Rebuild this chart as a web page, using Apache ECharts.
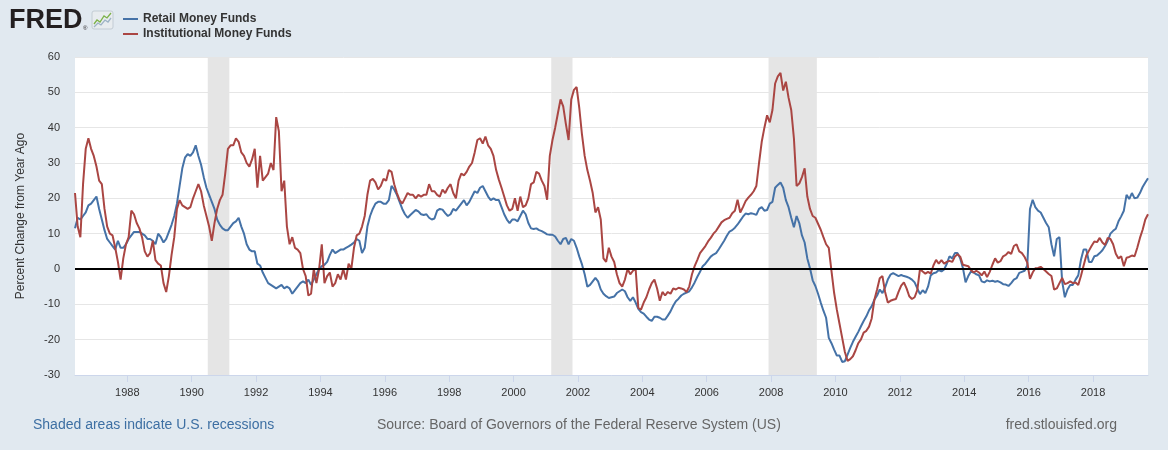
<!DOCTYPE html>
<html>
<head>
<meta charset="utf-8">
<script src="https://cdn.jsdelivr.net/npm/echarts@6/dist/echarts.min.js"></script>
<style>
html,body{margin:0;padding:0;background:#e1e9f0;}
#chart{width:1168px;height:450px;}
</style>
</head>
<body>
<div id="chart"></div>
<script>
// ---- data (percent change from year ago, monthly readings from mid-May 1986) ----
const seriesNames = ['Retail Money Funds', 'Institutional Money Funds'];
const startYear = 1986.375;
const monthStep = 1 / 12;

const retail = [
  11.5, 14.5, 14, 15, 16, 18, 18.5, 19.5, 20.5, 17, 14, 11, 8.5, 7.5, 6.5, 5.5, 8, 6, 6, 7,
  8.5, 9.5, 10.5, 10.5, 10.5, 10, 9.5, 8.5, 8.5, 8, 7, 10, 9, 7.5, 8.5, 10.5, 12.5, 15, 18.5, 23.5,
  28.5, 31.5, 32.5, 32, 33, 35, 32, 29.5, 26, 23, 21, 19, 17, 14, 12.5, 11.5, 11, 11, 12, 13,
  13.5, 14.5, 12, 10, 7, 5.5, 5, 5,
  1.5, 1, -1, -2.5, -4, -4.5, -5, -5.5, -5, -4.5, -5.5, -5, -5.5, -7, -6, -5, -4, -3.5, -4, -3,
  -4.5, -3, -1.5, 0, 0.8, 1.2, 2, 4, 5.5, 4.5, 5, 5.5, 5.5, 6, 6.4, 6.9, 7.5, 8.5, 8, 4.5,
  6, 12, 15, 17, 18.5, 19, 19, 18.5, 18.5, 19.5, 23.5, 22.5, 21, 19, 17, 15.5, 14.5, 15.3, 16, 16.7,
  16.3, 15.5, 15.3, 15.5, 14.5, 14, 14.3,
  16.5, 17, 16.8, 15.8, 15, 15.5, 17, 16.5, 17.5, 18.5, 19.5, 18, 19, 20.5, 22, 21.5, 23, 23.5, 22, 20.5,
  19.5, 20, 19.5, 19.5, 17.5, 15.5, 14, 13, 14, 14, 13.5, 15, 16.5, 15.5, 13, 11.5, 11.3, 11.5, 11, 10.7,
  10.3, 9.8, 9.7, 9.7, 9.2, 8, 7, 8.5, 8.8, 7, 8.5, 8, 6, 3.5, 1.3, -1.5, -5, -4.5, -3.5, -2.5,
  -3.5, -5.8, -7, -7.7, -8.2, -8, -7.8,
  -6.8, -6.3, -5.8, -6.3, -8, -9, -8, -9.5, -11.3, -12.2, -12.6, -13.5, -14.3, -14.7, -13.5, -13.5, -13.8, -14.3, -14.3, -13.2,
  -12, -10.4, -9.1, -8.4, -7.5, -7, -6.7, -6.3, -5.2, -3.8, -2.2, -0.8, 0.8, 1.5, 2.5, 3.5, 4.1, 4.5, 5.6, 6.8,
  8, 9.4, 10.6, 11, 11.7, 12.6, 13.7, 14.8, 15.7, 15.5, 15.8, 15.6, 15.3, 17, 17.5, 16.5, 16.7, 18.5, 19, 23,
  23.8, 24.5, 23, 19.5, 17.5, 14.5, 11.8,
  15, 13, 9.5, 7.5, 3, 0.2, -3.2, -4.8, -7, -9.5, -11.8, -13.8, -19.5, -21, -22.8, -24.5, -24.5, -26.3, -26.1, -24.2,
  -22.3, -20.6, -19.2, -17.8, -16.2, -14.7, -13.4, -11.7, -10.5, -8.7, -7.5, -5.8, -6.8, -5.2, -3, -1.6, -1.2, -1.6, -2, -1.7,
  -2, -2.2, -2.5, -3, -3.8, -5.5, -7.1, -6, -6.8, -5, -1.8, -1.2, -1, -0.3, -0.7, -0.1, 1.5, 3.6, 3, 4.5,
  4.5, 3, 0.3, -3.8, -2, -0.7, -1,
  -1.5, -1.8, -3.5, -3.8, -3.2, -3.5, -3.3, -3.6, -3.4, -3.8, -4.3, -4.4, -4.8, -4, -3, -2.6, -1.1, -0.8, -0.5, 1,
  17, 19.6, 17.5, 16.5, 16, 14.5, 13, 11.8, 7, 3.6, 8.5, 9, -3.5, -8, -5.8, -4.5, -4.5, -3, -1.8, 2.6,
  5.5, 5.5, 2, 2, 3.6, 3.8, 4.5, 5.3, 6.5, 8, 10, 10.8, 11.4, 13.5, 14.9, 16.5, 21, 19.8, 21.5, 20,
  20.2, 21.5, 23.2, 24.5, 25.7
];

const institutional = [
  21.5, 12, 9, 24, 34, 37, 34, 32, 29, 25, 24, 17, 12, 10, 9.5, 6, 2, -3, 3, 7,
  9, 16.5, 15.5, 13, 11.5, 9, 5, 3.5, 4.5, 8, 2.5, 1.5, 1, -4, -6.5, -2, 4, 9, 17, 19.5,
  18, 17.5, 17, 17.5, 20, 22, 24, 22, 18, 15, 12, 8, 13, 17, 19.5, 21, 27, 34, 35, 35,
  37, 36, 33, 32, 30, 29, 31, 34,
  23, 32, 25, 26, 27, 30, 28, 43, 39, 22, 25, 12, 7, 9, 6, 5.5, 4.5, 0, -2, -7.5,
  -7, 0, -4, 0, 7, -4, -2, -1, -5, -4, -1.5, -3, 0, -3, 1.5, 0, 6, 9.5, 10, 12,
  15, 21, 25, 25.5, 24.5, 22.5, 23.5, 25.5, 25, 28, 27.5, 24, 21.5, 19.5, 18.5, 20, 21.5, 21, 21, 20,
  21, 20.5, 21, 21, 24, 22, 22,
  21, 20.5, 22.5, 21.5, 23, 24, 21.5, 20, 25, 27, 26.5, 27.5, 29, 30, 33, 36.5, 37, 35.5, 37.5, 35,
  34, 32, 28, 25.3, 23, 20.5, 18, 16.5, 17, 20, 16.5, 20.5, 17.5, 18, 20, 24, 24.5, 27.5, 27, 25,
  23.5, 19.6, 32, 36.5, 40, 44, 48, 46, 41, 36.5, 48, 50.7, 51.5, 45.5, 38, 32, 28, 25, 21.5, 16,
  17.5, 14, 3, 2, 6, 3.5, 2,
  -1.5, -4, -5, -3, 0, -1.5, -0.5, 0, -11, -11.5, -9.5, -8, -5.8, -4, -3, -5.5, -9, -6.5, -7.5, -6.5,
  -7, -5.5, -5.8, -5.3, -5.5, -5.8, -6.5, -4.9, -1.5, 0.8, 2.6, 4.5, 5.5, 6.5, 7.8, 8.8, 10, 10.8, 12, 13.2,
  13.8, 14.2, 14.5, 15.8, 16.5, 19.6, 16, 17.5, 19.2, 20.2, 21, 22, 23.5, 30, 36, 40, 43.5, 41.5, 45, 52.5,
  54.5, 55.5, 50.5, 53, 48.5, 45, 37,
  23.5, 24.2, 26, 28.5, 20.5, 17, 15, 14.5, 12.8, 11.1, 9, 7, 6, -0.5, -6.8, -11.5, -15.5, -19.5, -23.5, -26,
  -25.5, -24.7, -23, -21, -19.9, -18, -17.5, -16.3, -14, -8.7, -5.8, -2.6, -2, -6.5, -9.5, -9, -8.7, -8.5, -6.5, -4.7,
  -3.8, -5.5, -7.7, -8.5, -8, -6, 0, -0.7, -1.3, -0.8, -1.3, 1, 2.6, 1.5, 2.5, 1.5, 2, 2.3, 2, 3.5,
  4.2, 3.5, 1.2, 1, 0.8, -0.3, -1,
  -0.5, -1, -1.8, -0.7, -2.3, -0.8, 1.2, 3, 1.8, 2.2, 3.6, 4, 4.8, 4.3, 6.5, 7, 5, 4.5, 3.4, 1.8,
  -2.8, -1, 0.2, 0.3, 0.6, 0, -0.7, -1.4, -2, -5.8, -5.5, -4, -2.5, -4.3, -4, -3.5, -4, -3.8, -4.5, -2,
  1, 3.8, 5.2, 6.6, 7.8, 7.6, 8.8, 7.5, 6.8, 8.8, 8.5, 7, 4.3, 3, 3.6, 0.8, 3.2, 3.4, 3.8, 3.6,
  6, 8.8, 11.1, 14, 15.5
];

const yearTicks = [1988, 1990, 1992, 1994, 1996, 1998, 2000, 2002, 2004, 2006, 2008, 2010, 2012, 2014, 2016, 2018];
const recessions = [[1990.5, 1991.17], [2001.17, 2001.83], [2007.92, 2009.42]];

// ---- chart ----
const FONT = '"Liberation Sans", Arial, sans-serif';
const dates = retail.map((_, i) => startYear + i * monthStep);
const toPairs = arr => arr.map((v, i) => [dates[i], v]);

const chart = echarts.init(document.getElementById('chart'), null, { renderer: 'canvas' });

const option = {
  animation: false,
  backgroundColor: '#e1e9f0',
  textStyle: { fontFamily: FONT },
  grid: { left: 75, right: 20, top: 57, bottom: 75, show: true, backgroundColor: '#ffffff', borderWidth: 0 },
  legend: {
    left: 118, top: 7, orient: 'vertical', itemWidth: 15, itemHeight: 2, itemGap: 1, icon: 'rect',
    textStyle: { color: '#333', fontSize: 12, fontWeight: 'bold', fontFamily: FONT, lineHeight: 14 },
    data: seriesNames
  },
  xAxis: {
    type: 'value', min: dates[0], max: dates[dates.length - 1],
    splitLine: { show: false },
    axisLine: { onZero: false, lineStyle: { color: '#ccd6eb' } },
    axisTick: { customValues: yearTicks, length: 7, lineStyle: { color: '#ccd6eb' } },
    axisLabel: { customValues: yearTicks, formatter: v => String(Math.round(v)), color: '#333', fontSize: 11, margin: 12, fontFamily: FONT }
  },
  yAxis: {
    type: 'value', min: -30, max: 60, interval: 10,
    name: 'Percent Change from Year Ago', nameLocation: 'middle', nameGap: 48,
    nameTextStyle: { color: '#333', fontSize: 12, fontFamily: FONT },
    axisLine: { show: false }, axisTick: { show: false },
    axisLabel: { color: '#333', fontSize: 11, margin: 15, fontFamily: FONT },
    splitLine: { lineStyle: { color: '#e6e6e6', width: 1 } }
  },
  series: [
    {
      type: 'line', data: [], silent: true, z: 1,
      markArea: { silent: true, itemStyle: { color: '#e5e5e5' }, data: recessions.map(r => [{ xAxis: r[0] }, { xAxis: r[1] }]) }
    },
    {
      name: seriesNames[0], type: 'line', data: toPairs(retail), showSymbol: false, z: 3,
      lineStyle: { color: '#4572a7', width: 2 }, itemStyle: { color: '#4572a7' }
    },
    {
      name: seriesNames[1], type: 'line', data: toPairs(institutional), showSymbol: false, z: 3,
      lineStyle: { color: '#aa4643', width: 2 }, itemStyle: { color: '#aa4643' }
    },
    {
      type: 'line', data: [], silent: true, z: 5,
      markLine: { silent: true, symbol: ['none', 'none'], label: { show: false },
        lineStyle: { color: '#000', width: 2, type: 'solid' }, data: [{ yAxis: 0 }] }
    }
  ],
  graphic: [
    { type: 'text', style: { x: 9, y: 21, text: 'FRED', font: 'bold 27px "Liberation Sans", Arial, sans-serif', fill: '#231f20', textVerticalAlign: 'middle' } },
    { type: 'text', style: { x: 83, y: 28, text: '®', font: '6px "Liberation Sans", Arial, sans-serif', fill: '#231f20', textVerticalAlign: 'middle' } },
    { type: 'rect', shape: { x: 92, y: 11, width: 21, height: 18, r: 2 }, style: { fill: '#e8ecef', stroke: '#c3ccd4', lineWidth: 1 } },
    { type: 'polyline', shape: { points: [[94, 24], [97, 20], [100, 22], [104, 16], [107, 18], [111, 13]] }, style: { stroke: '#7db24a', lineWidth: 1.3, fill: null } },
    { type: 'polyline', shape: { points: [[94, 27], [98, 23], [101, 25], [105, 20], [108, 22], [111, 18]] }, style: { stroke: '#9db3c6', lineWidth: 1.3, fill: null } },
    { type: 'text', style: { x: 33, y: 425, text: 'Shaded areas indicate U.S. recessions', font: '14px "Liberation Sans", Arial, sans-serif', fill: '#3d6fa3', textVerticalAlign: 'middle' } },
    { type: 'text', style: { x: 377, y: 425, text: 'Source: Board of Governors of the Federal Reserve System (US)', font: '14px "Liberation Sans", Arial, sans-serif', fill: '#666666', textVerticalAlign: 'middle' } },
    { type: 'text', style: { x: 1117, y: 425, text: 'fred.stlouisfed.org', font: '14px "Liberation Sans", Arial, sans-serif', fill: '#666666', textAlign: 'right', textVerticalAlign: 'middle' } }
  ]
};
chart.setOption(option);
</script>
</body>
</html>
